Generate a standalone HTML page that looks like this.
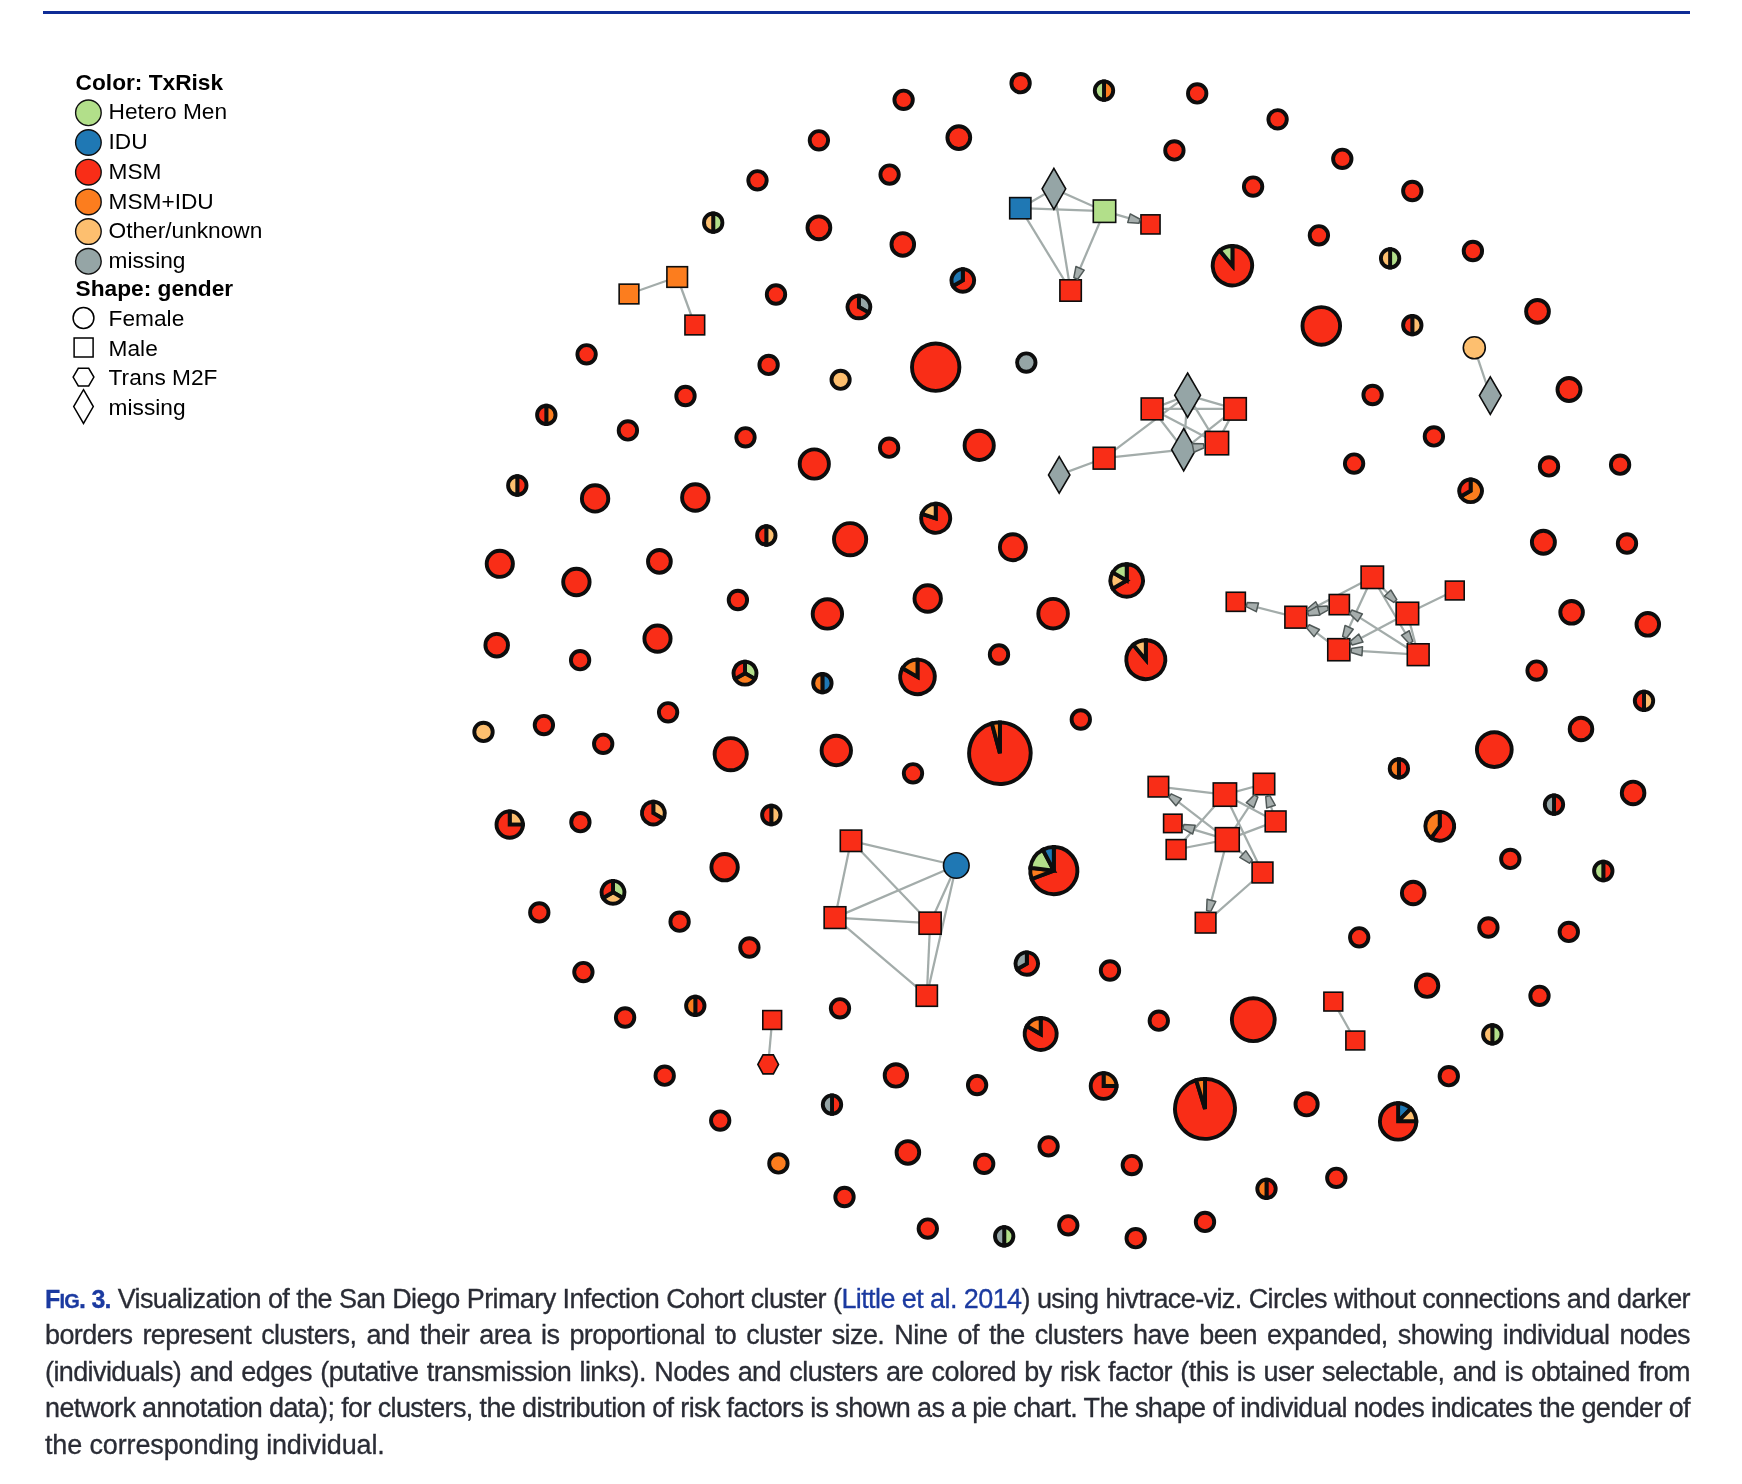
<!DOCTYPE html>
<html><head><meta charset="utf-8"><style>
html,body{margin:0;padding:0;background:#fff;}
body{width:1742px;height:1484px;position:relative;overflow:hidden;}
svg,.ln{will-change:transform;}
.ln{position:absolute;left:44.8px;width:1645px;font-family:"Liberation Sans",sans-serif;font-size:27px;line-height:36.5px;color:#2a2c35;white-space:nowrap;-webkit-text-stroke-width:0.3px;}
.ln.j{}
.fig{color:#1b3aa0;font-weight:bold;letter-spacing:-0.8px;font-size:25px}
.sc{font-size:0.8em;text-transform:uppercase}
.lnk{color:#1b3aa0}
</style></head><body>
<svg width="1742" height="1484" viewBox="0 0 1742 1484" style="position:absolute;left:0;top:0"><rect x="43" y="11" width="1647" height="3" fill="#0f2c96"/><g font-family="Liberation Sans, sans-serif" font-size="22.7" fill="#000"><text x="75.6" y="90.3" font-weight="bold">Color: TxRisk</text><circle cx="88.4" cy="112.8" r="12.8" fill="#b2df8a" stroke="#111" stroke-width="1.4"/><text x="108.5" y="119.4">Hetero Men</text><circle cx="88.4" cy="142.5" r="12.8" fill="#1f78b4" stroke="#111" stroke-width="1.4"/><text x="108.5" y="149.1">IDU</text><circle cx="88.4" cy="172.2" r="12.8" fill="#f92d17" stroke="#111" stroke-width="1.4"/><text x="108.5" y="178.8">MSM</text><circle cx="88.4" cy="201.9" r="12.8" fill="#fc7d1e" stroke="#111" stroke-width="1.4"/><text x="108.5" y="208.5">MSM+IDU</text><circle cx="88.4" cy="231.6" r="12.8" fill="#fdbf6f" stroke="#111" stroke-width="1.4"/><text x="108.5" y="238.2">Other/unknown</text><circle cx="88.4" cy="261.3" r="12.8" fill="#95a5a6" stroke="#111" stroke-width="1.4"/><text x="108.5" y="267.9">missing</text><text x="75.6" y="296.2" font-weight="bold">Shape: gender</text><circle cx="83.5" cy="318.0" r="10.4" fill="none" stroke="#000" stroke-width="1.5"/><text x="108.6" y="326.3">Female</text><rect x="74.1" y="338.0" width="19" height="19" fill="none" stroke="#000" stroke-width="1.5"/><text x="108.6" y="355.8">Male</text><path d="M73.1 377.1L78.3 368.3L88.7 368.3L93.9 377.1L88.7 385.9L78.3 385.9Z" fill="none" stroke="#000" stroke-width="1.5"/><text x="108.6" y="385.2">Trans M2F</text><path d="M83.5 389.7L93.3 406.6L83.5 423.5L73.7 406.6Z" fill="none" stroke="#000" stroke-width="1.5"/><text x="108.6" y="414.5">missing</text></g><g stroke="#a3acaa" stroke-width="2.25"><line x1="629" y1="294" x2="677.2" y2="277"/><line x1="677.2" y1="277" x2="694.8" y2="325"/><line x1="1020.3" y1="208.2" x2="1053.9" y2="188.8"/><line x1="1020.3" y1="208.2" x2="1104.5" y2="211.2"/><line x1="1053.9" y1="188.8" x2="1104.5" y2="211.2"/><line x1="1020.3" y1="208.2" x2="1070.6" y2="290.5"/><line x1="1053.9" y1="188.8" x2="1070.6" y2="290.5"/><line x1="1104.5" y1="211.2" x2="1070.6" y2="290.5"/><line x1="1104.5" y1="211.2" x2="1150.5" y2="224.4"/><line x1="1059.2" y1="474.9" x2="1104.1" y2="458.2"/><line x1="1104.1" y1="458.2" x2="1187.6" y2="395.2"/><line x1="1104.1" y1="458.2" x2="1183.7" y2="449.7"/><line x1="1152.1" y1="408.9" x2="1187.6" y2="395.2"/><line x1="1152.1" y1="408.9" x2="1235.1" y2="408.9"/><line x1="1152.1" y1="408.9" x2="1216.9" y2="443.1"/><line x1="1152.1" y1="408.9" x2="1183.7" y2="449.7"/><line x1="1187.6" y1="395.2" x2="1235.1" y2="408.9"/><line x1="1187.6" y1="395.2" x2="1216.9" y2="443.1"/><line x1="1187.6" y1="395.2" x2="1183.7" y2="449.7"/><line x1="1235.1" y1="408.9" x2="1216.9" y2="443.1"/><line x1="1235.1" y1="408.9" x2="1183.7" y2="449.7"/><line x1="1183.7" y1="449.7" x2="1216.9" y2="443.1"/><line x1="1474.3" y1="347.8" x2="1490.3" y2="395.6"/><line x1="1295.8" y1="617.2" x2="1235.8" y2="601.8"/><line x1="1372.3" y1="577.3" x2="1295.8" y2="617.2"/><line x1="1295.8" y1="617.2" x2="1339.3" y2="604.6"/><line x1="1339.3" y1="604.6" x2="1295.8" y2="617.2"/><line x1="1338.8" y1="649.7" x2="1295.8" y2="617.2"/><line x1="1372.3" y1="577.3" x2="1338.8" y2="649.7"/><line x1="1418.2" y1="654.7" x2="1339.3" y2="604.6"/><line x1="1372.3" y1="577.3" x2="1407.4" y2="613.5"/><line x1="1372.3" y1="577.3" x2="1418.2" y2="654.7"/><line x1="1407.4" y1="613.5" x2="1454.8" y2="590.5"/><line x1="1407.4" y1="613.5" x2="1338.8" y2="649.7"/><line x1="1407.4" y1="613.5" x2="1418.2" y2="654.7"/><line x1="1418.2" y1="654.7" x2="1338.8" y2="649.7"/><line x1="1158.4" y1="786.7" x2="1224.9" y2="794.6"/><line x1="1227.3" y1="839.6" x2="1158.4" y2="786.7"/><line x1="1224.9" y1="794.6" x2="1264" y2="784"/><line x1="1224.9" y1="794.6" x2="1275.6" y2="821.4"/><line x1="1227.3" y1="839.6" x2="1172.8" y2="823.4"/><line x1="1224.9" y1="794.6" x2="1176.1" y2="849.5"/><line x1="1227.3" y1="839.6" x2="1176.1" y2="849.5"/><line x1="1227.3" y1="839.6" x2="1264" y2="784"/><line x1="1275.6" y1="821.4" x2="1264" y2="784"/><line x1="1227.3" y1="839.6" x2="1275.6" y2="821.4"/><line x1="1224.9" y1="794.6" x2="1262.5" y2="872.5"/><line x1="1227.3" y1="839.6" x2="1262.5" y2="872.5"/><line x1="1227.3" y1="839.6" x2="1205.6" y2="922.7"/><line x1="1262.5" y1="872.5" x2="1205.6" y2="922.7"/><line x1="851" y1="840.8" x2="956.3" y2="865.5"/><line x1="851" y1="840.8" x2="835" y2="917.6"/><line x1="851" y1="840.8" x2="930.1" y2="923.2"/><line x1="835" y1="917.6" x2="956.3" y2="865.5"/><line x1="835" y1="917.6" x2="930.1" y2="923.2"/><line x1="835" y1="917.6" x2="926.8" y2="995.7"/><line x1="930.1" y1="923.2" x2="956.3" y2="865.5"/><line x1="930.1" y1="923.2" x2="926.8" y2="995.7"/><line x1="956.3" y1="865.5" x2="926.8" y2="995.7"/><line x1="772.2" y1="1020" x2="768.2" y2="1064.4"/><line x1="1333.3" y1="1001.6" x2="1355.3" y2="1040.5"/></g><circle cx="903.6" cy="99.8" r="9.2" fill="#f92d17" stroke="#0d0d0d" stroke-width="3.9"/><circle cx="818.9" cy="140.3" r="9.2" fill="#f92d17" stroke="#0d0d0d" stroke-width="3.9"/><circle cx="958.8" cy="137.6" r="11.4" fill="#f92d17" stroke="#0d0d0d" stroke-width="3.9"/><circle cx="757.5" cy="180.3" r="9.2" fill="#f92d17" stroke="#0d0d0d" stroke-width="3.9"/><circle cx="889.6" cy="174.6" r="9.2" fill="#f92d17" stroke="#0d0d0d" stroke-width="3.9"/><path d="M713.2 222.7L713.2 213.5A9.2 9.2 0 0 1 713.2 231.9Z" fill="#b2df8a" stroke="#0d0d0d" stroke-width="3.9" stroke-linejoin="miter"/><path d="M713.2 222.7L713.2 231.9A9.2 9.2 0 0 1 713.2 213.5Z" fill="#fdbf6f" stroke="#0d0d0d" stroke-width="3.9" stroke-linejoin="miter"/><circle cx="818.9" cy="227.8" r="11.4" fill="#f92d17" stroke="#0d0d0d" stroke-width="3.9"/><circle cx="902.8" cy="244.4" r="11.3" fill="#f92d17" stroke="#0d0d0d" stroke-width="3.9"/><path d="M962.8 280.4L962.8 269.1A11.3 11.3 0 1 1 953.01 286.05Z" fill="#f92d17" stroke="#0d0d0d" stroke-width="3.9" stroke-linejoin="miter"/><path d="M962.8 280.4L953.01 286.05A11.3 11.3 0 0 1 962.8 269.1Z" fill="#1f78b4" stroke="#0d0d0d" stroke-width="3.9" stroke-linejoin="miter"/><circle cx="776" cy="294.5" r="9.2" fill="#f92d17" stroke="#0d0d0d" stroke-width="3.9"/><path d="M858.9 307L858.9 295.7A11.3 11.3 0 0 1 868.69 312.65Z" fill="#95a5a6" stroke="#0d0d0d" stroke-width="3.9" stroke-linejoin="miter"/><path d="M858.9 307L868.69 312.65A11.3 11.3 0 1 1 858.9 295.7Z" fill="#f92d17" stroke="#0d0d0d" stroke-width="3.9" stroke-linejoin="miter"/><circle cx="1020.6" cy="83.2" r="9.2" fill="#f92d17" stroke="#0d0d0d" stroke-width="3.9"/><path d="M1104 90.6L1104 81.4A9.2 9.2 0 0 1 1104 99.8Z" fill="#fc7d1e" stroke="#0d0d0d" stroke-width="3.9" stroke-linejoin="miter"/><path d="M1104 90.6L1104 99.8A9.2 9.2 0 0 1 1104 81.4Z" fill="#b2df8a" stroke="#0d0d0d" stroke-width="3.9" stroke-linejoin="miter"/><circle cx="1197.2" cy="93.4" r="9.2" fill="#f92d17" stroke="#0d0d0d" stroke-width="3.9"/><circle cx="1277.6" cy="119.3" r="9.2" fill="#f92d17" stroke="#0d0d0d" stroke-width="3.9"/><circle cx="1174.4" cy="150.4" r="9.2" fill="#f92d17" stroke="#0d0d0d" stroke-width="3.9"/><circle cx="1253.1" cy="186.6" r="9.2" fill="#f92d17" stroke="#0d0d0d" stroke-width="3.9"/><path d="M1232.4 265.7L1232.4 246A19.7 19.7 0 1 1 1219.74 250.61Z" fill="#f92d17" stroke="#0d0d0d" stroke-width="3.9" stroke-linejoin="miter"/><path d="M1232.4 265.7L1219.74 250.61A19.7 19.7 0 0 1 1232.4 246Z" fill="#b2df8a" stroke="#0d0d0d" stroke-width="3.9" stroke-linejoin="miter"/><circle cx="1342.3" cy="158.8" r="9.2" fill="#f92d17" stroke="#0d0d0d" stroke-width="3.9"/><circle cx="1412.3" cy="191" r="9.2" fill="#f92d17" stroke="#0d0d0d" stroke-width="3.9"/><circle cx="1318.9" cy="235.3" r="9.2" fill="#f92d17" stroke="#0d0d0d" stroke-width="3.9"/><path d="M1390.1 258.3L1390.1 249.1A9.2 9.2 0 0 1 1390.1 267.5Z" fill="#b2df8a" stroke="#0d0d0d" stroke-width="3.9" stroke-linejoin="miter"/><path d="M1390.1 258.3L1390.1 267.5A9.2 9.2 0 0 1 1390.1 249.1Z" fill="#fdbf6f" stroke="#0d0d0d" stroke-width="3.9" stroke-linejoin="miter"/><circle cx="1472.9" cy="251" r="9.2" fill="#f92d17" stroke="#0d0d0d" stroke-width="3.9"/><circle cx="1537.5" cy="311.4" r="11.4" fill="#f92d17" stroke="#0d0d0d" stroke-width="3.9"/><circle cx="1321.3" cy="325.9" r="18.8" fill="#f92d17" stroke="#0d0d0d" stroke-width="3.9"/><path d="M1412.3 325.2L1412.3 316A9.2 9.2 0 0 1 1412.3 334.4Z" fill="#fdbf6f" stroke="#0d0d0d" stroke-width="3.9" stroke-linejoin="miter"/><path d="M1412.3 325.2L1412.3 334.4A9.2 9.2 0 0 1 1412.3 316Z" fill="#f92d17" stroke="#0d0d0d" stroke-width="3.9" stroke-linejoin="miter"/><circle cx="586.6" cy="354.3" r="9.2" fill="#f92d17" stroke="#0d0d0d" stroke-width="3.9"/><circle cx="768.6" cy="364.9" r="9.2" fill="#f92d17" stroke="#0d0d0d" stroke-width="3.9"/><circle cx="685.5" cy="396" r="9.2" fill="#f92d17" stroke="#0d0d0d" stroke-width="3.9"/><path d="M546.3 414.9L546.3 405.7A9.2 9.2 0 0 1 546.3 424.1Z" fill="#fc7d1e" stroke="#0d0d0d" stroke-width="3.9" stroke-linejoin="miter"/><path d="M546.3 414.9L546.3 424.1A9.2 9.2 0 0 1 546.3 405.7Z" fill="#f92d17" stroke="#0d0d0d" stroke-width="3.9" stroke-linejoin="miter"/><circle cx="627.9" cy="430.4" r="9.2" fill="#f92d17" stroke="#0d0d0d" stroke-width="3.9"/><circle cx="745.5" cy="437.3" r="9.2" fill="#f92d17" stroke="#0d0d0d" stroke-width="3.9"/><path d="M517.3 485.5L517.3 476.3A9.2 9.2 0 0 1 517.3 494.7Z" fill="#f92d17" stroke="#0d0d0d" stroke-width="3.9" stroke-linejoin="miter"/><path d="M517.3 485.5L517.3 494.7A9.2 9.2 0 0 1 517.3 476.3Z" fill="#fdbf6f" stroke="#0d0d0d" stroke-width="3.9" stroke-linejoin="miter"/><circle cx="595.1" cy="498.4" r="13.2" fill="#f92d17" stroke="#0d0d0d" stroke-width="3.9"/><circle cx="695.3" cy="497.5" r="13.2" fill="#f92d17" stroke="#0d0d0d" stroke-width="3.9"/><path d="M766.3 535.5L766.3 526.3A9.2 9.2 0 0 1 766.3 544.7Z" fill="#fdbf6f" stroke="#0d0d0d" stroke-width="3.9" stroke-linejoin="miter"/><path d="M766.3 535.5L766.3 544.7A9.2 9.2 0 0 1 766.3 526.3Z" fill="#f92d17" stroke="#0d0d0d" stroke-width="3.9" stroke-linejoin="miter"/><circle cx="499.8" cy="563.8" r="13.1" fill="#f92d17" stroke="#0d0d0d" stroke-width="3.9"/><circle cx="659.4" cy="561.4" r="11.4" fill="#f92d17" stroke="#0d0d0d" stroke-width="3.9"/><circle cx="576.4" cy="582" r="13.2" fill="#f92d17" stroke="#0d0d0d" stroke-width="3.9"/><circle cx="840.6" cy="379.8" r="9.1" fill="#fdbf6f" stroke="#0d0d0d" stroke-width="3.9"/><circle cx="935.7" cy="367.2" r="23.7" fill="#f92d17" stroke="#0d0d0d" stroke-width="3.9"/><circle cx="1026.3" cy="362.6" r="9.2" fill="#95a5a6" stroke="#0d0d0d" stroke-width="3.9"/><circle cx="889.1" cy="447.7" r="9.2" fill="#f92d17" stroke="#0d0d0d" stroke-width="3.9"/><circle cx="814.3" cy="464" r="14.6" fill="#f92d17" stroke="#0d0d0d" stroke-width="3.9"/><circle cx="979.2" cy="445.4" r="14.6" fill="#f92d17" stroke="#0d0d0d" stroke-width="3.9"/><path d="M935.7 518.3L935.7 503.8A14.5 14.5 0 1 1 921.91 513.82Z" fill="#f92d17" stroke="#0d0d0d" stroke-width="3.9" stroke-linejoin="miter"/><path d="M935.7 518.3L921.91 513.82A14.5 14.5 0 0 1 935.7 503.8Z" fill="#fdbf6f" stroke="#0d0d0d" stroke-width="3.9" stroke-linejoin="miter"/><circle cx="850.1" cy="539.2" r="16.1" fill="#f92d17" stroke="#0d0d0d" stroke-width="3.9"/><circle cx="1012.9" cy="547.2" r="13" fill="#f92d17" stroke="#0d0d0d" stroke-width="3.9"/><circle cx="1372.6" cy="395" r="9.2" fill="#f92d17" stroke="#0d0d0d" stroke-width="3.9"/><circle cx="1354.1" cy="463.6" r="9.2" fill="#f92d17" stroke="#0d0d0d" stroke-width="3.9"/><path d="M1126.7 580.5L1126.7 564.3A16.2 16.2 0 1 1 1112.67 588.6Z" fill="#f92d17" stroke="#0d0d0d" stroke-width="3.9" stroke-linejoin="miter"/><path d="M1126.7 580.5L1112.67 588.6A16.2 16.2 0 0 1 1112.67 572.4Z" fill="#fdbf6f" stroke="#0d0d0d" stroke-width="3.9" stroke-linejoin="miter"/><path d="M1126.7 580.5L1112.67 572.4A16.2 16.2 0 0 1 1126.7 564.3Z" fill="#b2df8a" stroke="#0d0d0d" stroke-width="3.9" stroke-linejoin="miter"/><circle cx="1569" cy="389.5" r="11.5" fill="#f92d17" stroke="#0d0d0d" stroke-width="3.9"/><circle cx="1433.9" cy="436.4" r="9.2" fill="#f92d17" stroke="#0d0d0d" stroke-width="3.9"/><circle cx="1549" cy="466.4" r="9.2" fill="#f92d17" stroke="#0d0d0d" stroke-width="3.9"/><circle cx="1620.1" cy="464.7" r="9.2" fill="#f92d17" stroke="#0d0d0d" stroke-width="3.9"/><path d="M1470.6 490.8L1470.6 479.5A11.3 11.3 0 1 1 1460.81 496.45Z" fill="#fc7d1e" stroke="#0d0d0d" stroke-width="3.9" stroke-linejoin="miter"/><path d="M1470.6 490.8L1460.81 496.45A11.3 11.3 0 0 1 1470.6 479.5Z" fill="#f92d17" stroke="#0d0d0d" stroke-width="3.9" stroke-linejoin="miter"/><circle cx="1543.4" cy="542.3" r="11.5" fill="#f92d17" stroke="#0d0d0d" stroke-width="3.9"/><circle cx="1627" cy="543.5" r="9.2" fill="#f92d17" stroke="#0d0d0d" stroke-width="3.9"/><circle cx="737.9" cy="600" r="9.2" fill="#f92d17" stroke="#0d0d0d" stroke-width="3.9"/><circle cx="496.7" cy="645.2" r="11.3" fill="#f92d17" stroke="#0d0d0d" stroke-width="3.9"/><circle cx="580.1" cy="660.2" r="9.2" fill="#f92d17" stroke="#0d0d0d" stroke-width="3.9"/><circle cx="657.5" cy="638.6" r="13.1" fill="#f92d17" stroke="#0d0d0d" stroke-width="3.9"/><path d="M745 673.2L745 661.8A11.4 11.4 0 0 1 754.87 678.9Z" fill="#b2df8a" stroke="#0d0d0d" stroke-width="3.9" stroke-linejoin="miter"/><path d="M745 673.2L754.87 678.9A11.4 11.4 0 0 1 735.13 678.9Z" fill="#fc7d1e" stroke="#0d0d0d" stroke-width="3.9" stroke-linejoin="miter"/><path d="M745 673.2L735.13 678.9A11.4 11.4 0 0 1 745 661.8Z" fill="#f92d17" stroke="#0d0d0d" stroke-width="3.9" stroke-linejoin="miter"/><circle cx="668.1" cy="712.3" r="9.2" fill="#f92d17" stroke="#0d0d0d" stroke-width="3.9"/><circle cx="483.5" cy="731.9" r="9.2" fill="#fdbf6f" stroke="#0d0d0d" stroke-width="3.9"/><circle cx="543.9" cy="725.1" r="9.2" fill="#f92d17" stroke="#0d0d0d" stroke-width="3.9"/><circle cx="603.2" cy="743.8" r="9.2" fill="#f92d17" stroke="#0d0d0d" stroke-width="3.9"/><circle cx="730.7" cy="754.2" r="16.1" fill="#f92d17" stroke="#0d0d0d" stroke-width="3.9"/><path d="M509.7 824.6L509.7 811.4A13.2 13.2 0 0 1 522.9 824.6Z" fill="#fdbf6f" stroke="#0d0d0d" stroke-width="3.9" stroke-linejoin="miter"/><path d="M509.7 824.6L522.9 824.6A13.2 13.2 0 1 1 509.7 811.4Z" fill="#f92d17" stroke="#0d0d0d" stroke-width="3.9" stroke-linejoin="miter"/><circle cx="580.4" cy="822.2" r="9.2" fill="#f92d17" stroke="#0d0d0d" stroke-width="3.9"/><path d="M653.3 813.1L653.3 801.7A11.4 11.4 0 0 1 663.17 818.8Z" fill="#fdbf6f" stroke="#0d0d0d" stroke-width="3.9" stroke-linejoin="miter"/><path d="M653.3 813.1L663.17 818.8A11.4 11.4 0 1 1 653.3 801.7Z" fill="#f92d17" stroke="#0d0d0d" stroke-width="3.9" stroke-linejoin="miter"/><path d="M771.3 815L771.3 805.8A9.2 9.2 0 0 1 771.3 824.2Z" fill="#fdbf6f" stroke="#0d0d0d" stroke-width="3.9" stroke-linejoin="miter"/><path d="M771.3 815L771.3 824.2A9.2 9.2 0 0 1 771.3 805.8Z" fill="#f92d17" stroke="#0d0d0d" stroke-width="3.9" stroke-linejoin="miter"/><circle cx="827.4" cy="613.9" r="14.7" fill="#f92d17" stroke="#0d0d0d" stroke-width="3.9"/><circle cx="927.7" cy="598.5" r="13.2" fill="#f92d17" stroke="#0d0d0d" stroke-width="3.9"/><circle cx="1053.1" cy="613.7" r="14.8" fill="#f92d17" stroke="#0d0d0d" stroke-width="3.9"/><circle cx="999" cy="654.5" r="9.2" fill="#f92d17" stroke="#0d0d0d" stroke-width="3.9"/><path d="M822.4 683.2L822.4 674A9.2 9.2 0 0 1 822.4 692.4Z" fill="#1f78b4" stroke="#0d0d0d" stroke-width="3.9" stroke-linejoin="miter"/><path d="M822.4 683.2L822.4 692.4A9.2 9.2 0 0 1 822.4 674Z" fill="#fc7d1e" stroke="#0d0d0d" stroke-width="3.9" stroke-linejoin="miter"/><path d="M917.5 676.9L917.5 659.6A17.3 17.3 0 1 1 902.52 668.25Z" fill="#f92d17" stroke="#0d0d0d" stroke-width="3.9" stroke-linejoin="miter"/><path d="M917.5 676.9L902.52 668.25A17.3 17.3 0 0 1 917.5 659.6Z" fill="#fc7d1e" stroke="#0d0d0d" stroke-width="3.9" stroke-linejoin="miter"/><circle cx="836.3" cy="750.5" r="14.7" fill="#f92d17" stroke="#0d0d0d" stroke-width="3.9"/><circle cx="913" cy="773.3" r="9.2" fill="#f92d17" stroke="#0d0d0d" stroke-width="3.9"/><path d="M999.9 753.2L999.9 722.4A30.8 30.8 0 1 1 991.93 723.45Z" fill="#f92d17" stroke="#0d0d0d" stroke-width="3.9" stroke-linejoin="miter"/><path d="M999.9 753.2L991.93 723.45A30.8 30.8 0 0 1 999.9 722.4Z" fill="#fc7d1e" stroke="#0d0d0d" stroke-width="3.9" stroke-linejoin="miter"/><path d="M1145.8 659.7L1145.8 640.2A19.5 19.5 0 1 1 1133.27 644.76Z" fill="#f92d17" stroke="#0d0d0d" stroke-width="3.9" stroke-linejoin="miter"/><path d="M1145.8 659.7L1133.27 644.76A19.5 19.5 0 0 1 1145.8 640.2Z" fill="#fdbf6f" stroke="#0d0d0d" stroke-width="3.9" stroke-linejoin="miter"/><circle cx="1080.8" cy="719.5" r="9.2" fill="#f92d17" stroke="#0d0d0d" stroke-width="3.9"/><circle cx="1571.6" cy="612.3" r="11.3" fill="#f92d17" stroke="#0d0d0d" stroke-width="3.9"/><circle cx="1647.8" cy="624.3" r="11.3" fill="#f92d17" stroke="#0d0d0d" stroke-width="3.9"/><circle cx="1536.6" cy="670.6" r="9.2" fill="#f92d17" stroke="#0d0d0d" stroke-width="3.9"/><path d="M1644 700.8L1644 691.6A9.2 9.2 0 0 1 1644 710Z" fill="#fdbf6f" stroke="#0d0d0d" stroke-width="3.9" stroke-linejoin="miter"/><path d="M1644 700.8L1644 710A9.2 9.2 0 0 1 1644 691.6Z" fill="#f92d17" stroke="#0d0d0d" stroke-width="3.9" stroke-linejoin="miter"/><circle cx="1581" cy="729" r="11.3" fill="#f92d17" stroke="#0d0d0d" stroke-width="3.9"/><circle cx="1494.3" cy="749.6" r="17.4" fill="#f92d17" stroke="#0d0d0d" stroke-width="3.9"/><path d="M1398.9 768.4L1398.9 759.2A9.2 9.2 0 0 1 1398.9 777.6Z" fill="#f92d17" stroke="#0d0d0d" stroke-width="3.9" stroke-linejoin="miter"/><path d="M1398.9 768.4L1398.9 777.6A9.2 9.2 0 0 1 1398.9 759.2Z" fill="#fc7d1e" stroke="#0d0d0d" stroke-width="3.9" stroke-linejoin="miter"/><path d="M1554 804.6L1554 795.4A9.2 9.2 0 0 1 1554 813.8Z" fill="#f92d17" stroke="#0d0d0d" stroke-width="3.9" stroke-linejoin="miter"/><path d="M1554 804.6L1554 813.8A9.2 9.2 0 0 1 1554 795.4Z" fill="#95a5a6" stroke="#0d0d0d" stroke-width="3.9" stroke-linejoin="miter"/><circle cx="1633.1" cy="792.9" r="11.3" fill="#f92d17" stroke="#0d0d0d" stroke-width="3.9"/><circle cx="724.6" cy="867.2" r="13.2" fill="#f92d17" stroke="#0d0d0d" stroke-width="3.9"/><path d="M613 892.3L613 880.9A11.4 11.4 0 0 1 622.87 898Z" fill="#b2df8a" stroke="#0d0d0d" stroke-width="3.9" stroke-linejoin="miter"/><path d="M613 892.3L622.87 898A11.4 11.4 0 0 1 603.13 898Z" fill="#fdbf6f" stroke="#0d0d0d" stroke-width="3.9" stroke-linejoin="miter"/><path d="M613 892.3L603.13 898A11.4 11.4 0 0 1 613 880.9Z" fill="#f92d17" stroke="#0d0d0d" stroke-width="3.9" stroke-linejoin="miter"/><circle cx="539.3" cy="912.4" r="9.2" fill="#f92d17" stroke="#0d0d0d" stroke-width="3.9"/><circle cx="679.6" cy="921.7" r="9.2" fill="#f92d17" stroke="#0d0d0d" stroke-width="3.9"/><circle cx="749.4" cy="947.5" r="9.2" fill="#f92d17" stroke="#0d0d0d" stroke-width="3.9"/><circle cx="583.4" cy="972.1" r="9.2" fill="#f92d17" stroke="#0d0d0d" stroke-width="3.9"/><path d="M695.3 1005.8L695.3 996.6A9.2 9.2 0 0 1 695.3 1015Z" fill="#f92d17" stroke="#0d0d0d" stroke-width="3.9" stroke-linejoin="miter"/><path d="M695.3 1005.8L695.3 1015A9.2 9.2 0 0 1 695.3 996.6Z" fill="#fc7d1e" stroke="#0d0d0d" stroke-width="3.9" stroke-linejoin="miter"/><circle cx="625.1" cy="1017.5" r="9.2" fill="#f92d17" stroke="#0d0d0d" stroke-width="3.9"/><circle cx="664.7" cy="1075.7" r="9.2" fill="#f92d17" stroke="#0d0d0d" stroke-width="3.9"/><circle cx="840" cy="1008.3" r="9.2" fill="#f92d17" stroke="#0d0d0d" stroke-width="3.9"/><path d="M1053.8 870.6L1053.8 847A23.6 23.6 0 1 1 1031.74 878.98Z" fill="#f92d17" stroke="#0d0d0d" stroke-width="3.9" stroke-linejoin="miter"/><path d="M1053.8 870.6L1031.74 878.98A23.6 23.6 0 0 1 1030.37 867.76Z" fill="#fc7d1e" stroke="#0d0d0d" stroke-width="3.9" stroke-linejoin="miter"/><path d="M1053.8 870.6L1030.37 867.76A23.6 23.6 0 0 1 1042.83 849.7Z" fill="#b2df8a" stroke="#0d0d0d" stroke-width="3.9" stroke-linejoin="miter"/><path d="M1053.8 870.6L1042.83 849.7A23.6 23.6 0 0 1 1053.8 847Z" fill="#1f78b4" stroke="#0d0d0d" stroke-width="3.9" stroke-linejoin="miter"/><path d="M1026.8 963.6L1026.8 952.4A11.2 11.2 0 1 1 1017.1 969.2Z" fill="#f92d17" stroke="#0d0d0d" stroke-width="3.9" stroke-linejoin="miter"/><path d="M1026.8 963.6L1017.1 969.2A11.2 11.2 0 0 1 1026.8 952.4Z" fill="#95a5a6" stroke="#0d0d0d" stroke-width="3.9" stroke-linejoin="miter"/><path d="M1040.7 1034L1040.7 1018A16 16 0 1 1 1026.84 1026Z" fill="#f92d17" stroke="#0d0d0d" stroke-width="3.9" stroke-linejoin="miter"/><path d="M1040.7 1034L1026.84 1026A16 16 0 0 1 1040.7 1018Z" fill="#fc7d1e" stroke="#0d0d0d" stroke-width="3.9" stroke-linejoin="miter"/><circle cx="895.9" cy="1075.4" r="11.2" fill="#f92d17" stroke="#0d0d0d" stroke-width="3.9"/><circle cx="977.1" cy="1085.1" r="9.2" fill="#f92d17" stroke="#0d0d0d" stroke-width="3.9"/><circle cx="1359.2" cy="937.3" r="9.2" fill="#f92d17" stroke="#0d0d0d" stroke-width="3.9"/><circle cx="1110" cy="970.5" r="9.2" fill="#f92d17" stroke="#0d0d0d" stroke-width="3.9"/><circle cx="1158.8" cy="1020.7" r="9.2" fill="#f92d17" stroke="#0d0d0d" stroke-width="3.9"/><circle cx="1253.3" cy="1019.7" r="21.4" fill="#f92d17" stroke="#0d0d0d" stroke-width="3.9"/><path d="M1103.6 1086L1103.6 1073.1A12.9 12.9 0 0 1 1116.5 1086Z" fill="#fc7d1e" stroke="#0d0d0d" stroke-width="3.9" stroke-linejoin="miter"/><path d="M1103.6 1086L1116.5 1086A12.9 12.9 0 1 1 1103.6 1073.1Z" fill="#f92d17" stroke="#0d0d0d" stroke-width="3.9" stroke-linejoin="miter"/><path d="M1439.7 826.3L1439.7 811.9A14.4 14.4 0 1 1 1431.24 837.95Z" fill="#f92d17" stroke="#0d0d0d" stroke-width="3.9" stroke-linejoin="miter"/><path d="M1439.7 826.3L1431.24 837.95A14.4 14.4 0 0 1 1439.7 811.9Z" fill="#fc7d1e" stroke="#0d0d0d" stroke-width="3.9" stroke-linejoin="miter"/><circle cx="1510.3" cy="858.9" r="9.2" fill="#f92d17" stroke="#0d0d0d" stroke-width="3.9"/><path d="M1603.3 871L1603.3 861.8A9.2 9.2 0 0 1 1603.3 880.2Z" fill="#f92d17" stroke="#0d0d0d" stroke-width="3.9" stroke-linejoin="miter"/><path d="M1603.3 871L1603.3 880.2A9.2 9.2 0 0 1 1603.3 861.8Z" fill="#b2df8a" stroke="#0d0d0d" stroke-width="3.9" stroke-linejoin="miter"/><circle cx="1413.2" cy="893" r="11.3" fill="#f92d17" stroke="#0d0d0d" stroke-width="3.9"/><circle cx="1488.4" cy="927.5" r="9.2" fill="#f92d17" stroke="#0d0d0d" stroke-width="3.9"/><circle cx="1568.8" cy="931.9" r="9.2" fill="#f92d17" stroke="#0d0d0d" stroke-width="3.9"/><circle cx="1427.1" cy="985.7" r="11.2" fill="#f92d17" stroke="#0d0d0d" stroke-width="3.9"/><circle cx="1539.5" cy="995.8" r="9.2" fill="#f92d17" stroke="#0d0d0d" stroke-width="3.9"/><path d="M1492.3 1034.4L1492.3 1025.2A9.2 9.2 0 0 1 1492.3 1043.6Z" fill="#b2df8a" stroke="#0d0d0d" stroke-width="3.9" stroke-linejoin="miter"/><path d="M1492.3 1034.4L1492.3 1043.6A9.2 9.2 0 0 1 1492.3 1025.2Z" fill="#fdbf6f" stroke="#0d0d0d" stroke-width="3.9" stroke-linejoin="miter"/><circle cx="720.2" cy="1120.6" r="9.2" fill="#f92d17" stroke="#0d0d0d" stroke-width="3.9"/><path d="M832 1104.6L832 1095.4A9.2 9.2 0 0 1 832 1113.8Z" fill="#f92d17" stroke="#0d0d0d" stroke-width="3.9" stroke-linejoin="miter"/><path d="M832 1104.6L832 1113.8A9.2 9.2 0 0 1 832 1095.4Z" fill="#95a5a6" stroke="#0d0d0d" stroke-width="3.9" stroke-linejoin="miter"/><circle cx="778.4" cy="1163.4" r="9.2" fill="#fc7d1e" stroke="#0d0d0d" stroke-width="3.9"/><circle cx="844.5" cy="1197" r="9.2" fill="#f92d17" stroke="#0d0d0d" stroke-width="3.9"/><circle cx="907.9" cy="1152.4" r="11.3" fill="#f92d17" stroke="#0d0d0d" stroke-width="3.9"/><circle cx="984.2" cy="1163.8" r="9.2" fill="#f92d17" stroke="#0d0d0d" stroke-width="3.9"/><circle cx="1048.6" cy="1146.3" r="9.2" fill="#f92d17" stroke="#0d0d0d" stroke-width="3.9"/><circle cx="1131.8" cy="1165.1" r="9.2" fill="#f92d17" stroke="#0d0d0d" stroke-width="3.9"/><circle cx="927.8" cy="1228.6" r="9.2" fill="#f92d17" stroke="#0d0d0d" stroke-width="3.9"/><path d="M1004.2 1236.3L1004.2 1227.1A9.2 9.2 0 0 1 1004.2 1245.5Z" fill="#b2df8a" stroke="#0d0d0d" stroke-width="3.9" stroke-linejoin="miter"/><path d="M1004.2 1236.3L1004.2 1245.5A9.2 9.2 0 0 1 1004.2 1227.1Z" fill="#95a5a6" stroke="#0d0d0d" stroke-width="3.9" stroke-linejoin="miter"/><circle cx="1068.3" cy="1225.3" r="9.2" fill="#f92d17" stroke="#0d0d0d" stroke-width="3.9"/><circle cx="1135.7" cy="1238.2" r="9.2" fill="#f92d17" stroke="#0d0d0d" stroke-width="3.9"/><path d="M1205 1108.9L1205 1078.9A30 30 0 1 1 1196.23 1080.21Z" fill="#f92d17" stroke="#0d0d0d" stroke-width="3.9" stroke-linejoin="miter"/><path d="M1205 1108.9L1196.23 1080.21A30 30 0 0 1 1205 1078.9Z" fill="#fc7d1e" stroke="#0d0d0d" stroke-width="3.9" stroke-linejoin="miter"/><circle cx="1306.6" cy="1104.3" r="11.1" fill="#f92d17" stroke="#0d0d0d" stroke-width="3.9"/><circle cx="1448.8" cy="1076.2" r="9.2" fill="#f92d17" stroke="#0d0d0d" stroke-width="3.9"/><path d="M1398.1 1121.4L1398.1 1103.2A18.2 18.2 0 0 1 1410.97 1108.53Z" fill="#1f78b4" stroke="#0d0d0d" stroke-width="3.9" stroke-linejoin="miter"/><path d="M1398.1 1121.4L1410.97 1108.53A18.2 18.2 0 0 1 1416.3 1121.4Z" fill="#fdbf6f" stroke="#0d0d0d" stroke-width="3.9" stroke-linejoin="miter"/><path d="M1398.1 1121.4L1416.3 1121.4A18.2 18.2 0 1 1 1398.1 1103.2Z" fill="#f92d17" stroke="#0d0d0d" stroke-width="3.9" stroke-linejoin="miter"/><path d="M1266.5 1188.8L1266.5 1179.6A9.2 9.2 0 0 1 1266.5 1198Z" fill="#f92d17" stroke="#0d0d0d" stroke-width="3.9" stroke-linejoin="miter"/><path d="M1266.5 1188.8L1266.5 1198A9.2 9.2 0 0 1 1266.5 1179.6Z" fill="#fc7d1e" stroke="#0d0d0d" stroke-width="3.9" stroke-linejoin="miter"/><circle cx="1336.3" cy="1177.8" r="9.2" fill="#f92d17" stroke="#0d0d0d" stroke-width="3.9"/><circle cx="1205" cy="1221.9" r="9.2" fill="#f92d17" stroke="#0d0d0d" stroke-width="3.9"/><rect x="619.15" y="284.15" width="19.7" height="19.7" fill="#fc7d1e" stroke="#0d0d0d" stroke-width="1.6"/><rect x="666.9" y="266.7" width="20.6" height="20.6" fill="#fc7d1e" stroke="#0d0d0d" stroke-width="1.6"/><rect x="684.95" y="315.15" width="19.7" height="19.7" fill="#f92d17" stroke="#0d0d0d" stroke-width="1.6"/><rect x="1009.7" y="197.6" width="21.2" height="21.2" fill="#1f78b4" stroke="#0d0d0d" stroke-width="1.6"/><path d="M1053.9 168.3L1065.7 188.8L1053.9 209.3L1042.1 188.8Z" fill="#95a5a6" stroke="#0d0d0d" stroke-width="1.6"/><rect x="1093.3" y="200" width="22.4" height="22.4" fill="#b2df8a" stroke="#0d0d0d" stroke-width="1.6"/><rect x="1140.95" y="214.85" width="19.1" height="19.1" fill="#f92d17" stroke="#0d0d0d" stroke-width="1.6"/><rect x="1059.9" y="279.8" width="21.4" height="21.4" fill="#f92d17" stroke="#0d0d0d" stroke-width="1.6"/><path d="M1059.2 456.6L1069.9 474.9L1059.2 493.2L1048.5 474.9Z" fill="#95a5a6" stroke="#0d0d0d" stroke-width="1.6"/><rect x="1093.2" y="447.3" width="21.8" height="21.8" fill="#f92d17" stroke="#0d0d0d" stroke-width="1.6"/><rect x="1141.2" y="398" width="21.8" height="21.8" fill="#f92d17" stroke="#0d0d0d" stroke-width="1.6"/><path d="M1187.6 373L1200.5 395.2L1187.6 417.4L1174.7 395.2Z" fill="#95a5a6" stroke="#0d0d0d" stroke-width="1.6"/><rect x="1223.9" y="397.7" width="22.4" height="22.4" fill="#f92d17" stroke="#0d0d0d" stroke-width="1.6"/><rect x="1205.2" y="431.4" width="23.4" height="23.4" fill="#f92d17" stroke="#0d0d0d" stroke-width="1.6"/><path d="M1183.7 428.5L1195.8 449.7L1183.7 470.9L1171.6 449.7Z" fill="#95a5a6" stroke="#0d0d0d" stroke-width="1.6"/><circle cx="1474.3" cy="347.8" r="11" fill="#fdbf6f" stroke="#0d0d0d" stroke-width="1.6"/><path d="M1490.3 376.8L1501.2 395.6L1490.3 414.4L1479.4 395.6Z" fill="#95a5a6" stroke="#0d0d0d" stroke-width="1.6"/><rect x="1226.25" y="592.25" width="19.1" height="19.1" fill="#f92d17" stroke="#0d0d0d" stroke-width="1.6"/><rect x="1284.9" y="606.3" width="21.8" height="21.8" fill="#f92d17" stroke="#0d0d0d" stroke-width="1.6"/><rect x="1329.2" y="594.5" width="20.2" height="20.2" fill="#f92d17" stroke="#0d0d0d" stroke-width="1.6"/><rect x="1361.1" y="566.1" width="22.4" height="22.4" fill="#f92d17" stroke="#0d0d0d" stroke-width="1.6"/><rect x="1445.4" y="581.1" width="18.8" height="18.8" fill="#f92d17" stroke="#0d0d0d" stroke-width="1.6"/><rect x="1396.15" y="602.25" width="22.5" height="22.5" fill="#f92d17" stroke="#0d0d0d" stroke-width="1.6"/><rect x="1327.75" y="638.65" width="22.1" height="22.1" fill="#f92d17" stroke="#0d0d0d" stroke-width="1.6"/><rect x="1407.3" y="643.8" width="21.8" height="21.8" fill="#f92d17" stroke="#0d0d0d" stroke-width="1.6"/><rect x="1148.15" y="776.45" width="20.5" height="20.5" fill="#f92d17" stroke="#0d0d0d" stroke-width="1.6"/><rect x="1213.25" y="782.95" width="23.3" height="23.3" fill="#f92d17" stroke="#0d0d0d" stroke-width="1.6"/><rect x="1253.3" y="773.3" width="21.4" height="21.4" fill="#f92d17" stroke="#0d0d0d" stroke-width="1.6"/><rect x="1163.6" y="814.2" width="18.4" height="18.4" fill="#f92d17" stroke="#0d0d0d" stroke-width="1.6"/><rect x="1265.2" y="811" width="20.8" height="20.8" fill="#f92d17" stroke="#0d0d0d" stroke-width="1.6"/><rect x="1166.2" y="839.6" width="19.8" height="19.8" fill="#f92d17" stroke="#0d0d0d" stroke-width="1.6"/><rect x="1215.35" y="827.65" width="23.9" height="23.9" fill="#f92d17" stroke="#0d0d0d" stroke-width="1.6"/><rect x="1252.1" y="862.1" width="20.8" height="20.8" fill="#f92d17" stroke="#0d0d0d" stroke-width="1.6"/><rect x="1195.3" y="912.4" width="20.6" height="20.6" fill="#f92d17" stroke="#0d0d0d" stroke-width="1.6"/><rect x="840.3" y="830.1" width="21.4" height="21.4" fill="#f92d17" stroke="#0d0d0d" stroke-width="1.6"/><circle cx="956.3" cy="865.5" r="12.8" fill="#1f78b4" stroke="#0d0d0d" stroke-width="1.6"/><rect x="824.15" y="906.75" width="21.7" height="21.7" fill="#f92d17" stroke="#0d0d0d" stroke-width="1.6"/><rect x="919.05" y="912.15" width="22.1" height="22.1" fill="#f92d17" stroke="#0d0d0d" stroke-width="1.6"/><rect x="916.2" y="985.1" width="21.2" height="21.2" fill="#f92d17" stroke="#0d0d0d" stroke-width="1.6"/><rect x="762.8" y="1010.6" width="18.8" height="18.8" fill="#f92d17" stroke="#0d0d0d" stroke-width="1.6"/><path d="M757.86 1064.4L763.03 1054.9L773.37 1054.9L778.54 1064.4L773.37 1073.9L763.03 1073.9Z" fill="#f92d17" stroke="#0d0d0d" stroke-width="1.6"/><rect x="1323.9" y="992.2" width="18.8" height="18.8" fill="#f92d17" stroke="#0d0d0d" stroke-width="1.6"/><rect x="1345.9" y="1031.1" width="18.8" height="18.8" fill="#f92d17" stroke="#0d0d0d" stroke-width="1.6"/><g fill="#a6aead" stroke="#505958" stroke-width="1.5" stroke-linejoin="round"><path d="M1073.82 277.62L1075.94 266.56L1084.21 270.1L1077.68 279.27Z"/><path d="M1138.99 223.28L1127.76 222.56L1130.24 213.9L1140.15 219.25Z"/><path d="M1204.22 447.76L1193.9 452.26L1192.15 443.43L1203.4 443.64Z"/><path d="M1247.25 602.57L1258.5 602.98L1256.27 611.7L1246.21 606.64Z"/><path d="M1307.06 608.96L1315.7 601.74L1319.87 609.72L1309 612.68Z"/><path d="M1328.41 609.94L1318.51 615.31L1316.01 606.66L1327.24 605.91Z"/><path d="M1307.49 611.63L1317.39 606.26L1319.89 614.91L1308.66 615.66Z"/><path d="M1309.24 624.73L1319.47 629.45L1314.04 636.63L1306.71 628.08Z"/><path d="M1342.63 636.42L1345.07 625.43L1353.24 629.21L1346.44 638.19Z"/><path d="M1351.83 610.07L1362.4 613.94L1357.58 621.54L1349.58 613.62Z"/><path d="M1393.79 602.48L1384.41 596.25L1390.87 589.99L1396.81 599.56Z"/><path d="M1409.15 643.56L1401.47 635.32L1409.22 630.73L1412.76 641.41Z"/><path d="M1350.2 641.31L1358.81 634.05L1363.01 642.01L1352.16 645.02Z"/><path d="M1351.38 648.39L1362.51 646.68L1361.94 655.67L1351.12 652.58Z"/><path d="M1171.2 793.88L1181.39 798.68L1175.91 805.82L1168.65 797.22Z"/><path d="M1183.97 824.53L1195.2 825.36L1192.64 833.99L1182.78 828.56Z"/><path d="M1257.83 797.16L1253.77 807.66L1246.26 802.7L1254.33 794.84Z"/><path d="M1269.75 795.45L1275.3 805.25L1266.71 807.91L1265.74 796.7Z"/><path d="M1249.43 863.16L1239.75 857.4L1245.9 850.82L1252.3 860.09Z"/><path d="M1206.62 910.49L1207.08 899.24L1215.78 901.51L1210.68 911.55Z"/></g></svg>
<div class="ln j" style="top:1280.5px;letter-spacing:-0.6px;word-spacing:0.096px"><span class="fig">F<span class="sc">ig</span>. 3.</span> Visualization of the San Diego Primary Infection Cohort cluster (<span class="lnk">Little et al. 2014</span>) using hivtrace-viz. Circles without connections and darker</div><div class="ln j" style="top:1317.1px;letter-spacing:-0.6px;word-spacing:3.18px">borders represent clusters, and their area is proportional to cluster size. Nine of the clusters have been expanded, showing individual nodes</div><div class="ln j" style="top:1353.7px;letter-spacing:-0.6px;word-spacing:1.496px">(individuals) and edges (putative transmission links). Nodes and clusters are colored by risk factor (this is user selectable, and is obtained from</div><div class="ln j" style="top:1390.3px;letter-spacing:-0.6px;word-spacing:-0.141px">network annotation data); for clusters, the distribution of risk factors is shown as a pie chart. The shape of individual nodes indicates the gender of</div><div class="ln" style="top:1426.9px;letter-spacing:-0.14px;word-spacing:0px">the corresponding individual.</div>
</body></html>
